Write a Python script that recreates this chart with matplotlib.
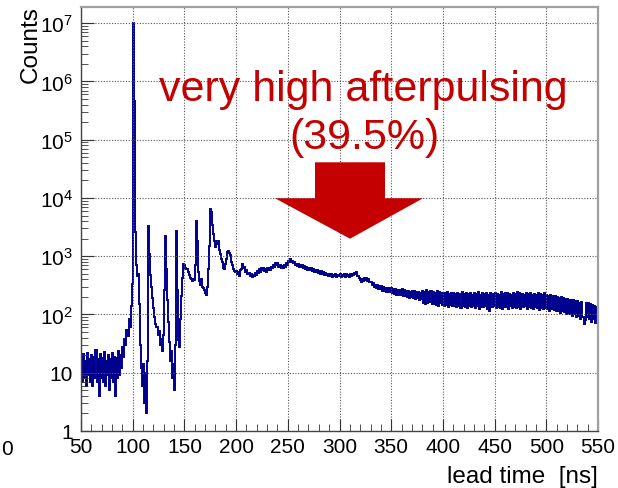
import matplotlib
matplotlib.use("Agg")
import matplotlib.pyplot as plt
from matplotlib.ticker import FixedLocator, FuncFormatter, NullFormatter
from matplotlib.patches import Polygon
import numpy as np

plt.rcParams['font.family'] = ['Liberation Sans', 'DejaVu Sans']
plt.rcParams['mathtext.fontset'] = 'custom'
plt.rcParams['mathtext.rm'] = 'Liberation Sans'
plt.rcParams['mathtext.default'] = 'regular'

# histogram: 1 ns bins from 50 to 550 ns, counts per bin
t_start = 50
t_stop = 550
counts = [
    18, 7, 21, 8, 16, 6, 22, 9, 17, 7,              # 50
    20, 6, 19, 8, 25, 7, 17, 4, 21, 8,              # 60
    18, 7, 23, 6, 16, 9, 20, 5, 17, 8,              # 70
    22, 7, 19, 4, 18, 8, 24, 9, 20, 12,             # 80
    28, 19, 38, 30, 55, 42, 85, 60, 140, 330,       # 90
    10000000, 470000, 2600, 700, 450, 500, 150, 30, 12, 6,   # 100
    14, 3, 10, 2, 16, 3300, 1100, 480, 300, 190,    # 110
    130, 90, 70, 60, 45, 52, 30, 38, 24, 45,        # 120
    260, 2200, 600, 180, 75, 34, 16, 24, 8, 14,     # 130
    5, 30, 2700, 260, 36, 28, 85, 210, 420, 750,    # 140
    720, 640, 600, 530, 480, 430, 400, 380, 410, 390,   # 150
    700, 4100, 1800, 540, 380, 320, 400, 300, 280, 260, # 160
    230, 220, 300, 600, 1500, 6500, 5800, 3400, 2400, 1800,  # 170
    1450, 1600, 1800, 1300, 1100, 900, 790, 640, 600, 750,   # 180
    900, 1170, 1250, 1150, 1030, 800, 700, 600, 560, 540,    # 190
    560, 490, 530, 460, 590, 600, 730, 640, 660, 540,   # 200
    590, 500, 520, 450, 500, 440, 480, 450, 520, 470,   # 210
    550, 510, 600, 530, 620, 570, 630, 550, 600, 540,   # 220
    620, 570, 640, 580, 660, 630, 720, 650, 760, 700,   # 230
    760, 650, 710, 630, 690, 620, 720, 660, 760, 720,   # 240
    840, 800, 900, 810, 840, 760, 800, 700, 750, 680,   # 250
    730, 660, 720, 650, 700, 620, 680, 600, 650, 590,   # 260
    640, 580, 620, 560, 600, 540, 590, 530, 570, 520,   # 270
    560, 500, 550, 490, 530, 480, 520, 470, 500, 460,   # 280
    490, 450, 490, 440, 480, 450, 490, 440, 480, 450,   # 290
    490, 440, 480, 450, 500, 440, 490, 450, 480, 440,   # 300
    490, 450, 500, 470, 520, 490, 540, 460, 450, 420,   # 310
    390, 360, 400, 370, 420, 390, 430, 380, 410, 360,   # 320
    355, 315, 345, 295, 325, 285, 315, 275, 305, 270,   # 330
    305, 255, 295, 250, 290, 245, 290, 240, 280, 240,   # 340
    280, 230, 270, 225, 270, 220, 265, 215, 260, 215,   # 350
    270, 210, 260, 205, 255, 200, 250, 195, 245, 200,   # 360
    255, 190, 250, 185, 245, 190, 240, 180, 235, 185,   # 370
    255, 160, 240, 150, 265, 155, 245, 165, 250, 150,   # 380
    245, 150, 235, 145, 250, 140, 240, 155, 230, 145,   # 390
    235, 140, 230, 145, 240, 135, 225, 145, 235, 140,   # 400
    230, 140, 225, 135, 235, 140, 225, 130, 240, 140,   # 410
    225, 135, 235, 130, 225, 140, 230, 135, 220, 140,   # 420
    230, 130, 225, 140, 240, 125, 220, 135, 230, 135,   # 430
    225, 140, 235, 125, 220, 115, 230, 135, 225, 140,   # 440
    235, 130, 225, 135, 220, 130, 240, 125, 225, 135,   # 450
    230, 135, 235, 125, 225, 140, 220, 130, 235, 135,   # 460
    225, 130, 240, 135, 230, 125, 225, 135, 220, 140,   # 470
    235, 125, 225, 135, 230, 130, 220, 125, 225, 135,   # 480
    220, 130, 235, 120, 225, 130, 215, 125, 230, 130,   # 490
    215, 125, 210, 115, 220, 125, 205, 120, 210, 115,   # 500
    200, 115, 195, 105, 200, 115, 190, 110, 185, 100,   # 510
    185, 105, 180, 100, 175, 95, 175, 100, 170, 90,     # 520
    170, 95, 160, 85, 165, 90, 70, 80, 160, 90,         # 530
    155, 85, 150, 75, 145, 85, 140, 72, 135, 90,        # 540
]
edges = np.arange(t_start, t_stop + 1, 1)

x_major = [50, 100, 150, 200, 250, 300, 350, 400, 450, 500, 550]
y_major = [1, 10, 100, 1e3, 1e4, 1e5, 1e6, 1e7]

annot_line1 = "very high afterpulsing"
annot_line2 = "(39.5%)"
red = "#c40000"
blue = "#00008f"

fig = plt.figure(figsize=(6.18, 4.89), dpi=100)
ax = fig.add_axes([81 / 618, 57 / 489, 517 / 618, 424 / 489])

ax.stairs(counts, edges, baseline=None, color=blue, linewidth=1.4)

ax.set_yscale('log')
ax.set_xlim(t_start, t_stop)
ax.set_ylim(1, 1.9e7)

ax.xaxis.set_major_locator(FixedLocator(x_major))
ax.xaxis.set_minor_locator(FixedLocator(np.arange(50, 551, 10)))
ax.yaxis.set_major_locator(FixedLocator(y_major))
ax.yaxis.set_minor_locator(FixedLocator(
    [m * 10.0 ** d for d in range(0, 8) for m in range(2, 10)]))
ax.yaxis.set_minor_formatter(NullFormatter())


def ylab(v, pos):
    e = int(round(np.log10(v)))
    if e == 0:
        return "1"
    if e == 1:
        return "10"
    return r"$10^{%d}$" % e


ax.yaxis.set_major_formatter(FuncFormatter(ylab))

ax.tick_params(axis='both', which='both', direction='in', colors='#333333',
               labelcolor='black', top=False, right=False)
ax.tick_params(axis='x', which='major', length=9, labelsize=15, pad=4)
ax.tick_params(axis='x', which='minor', length=5)
ax.tick_params(axis='y', which='major', length=9, labelsize=15, pad=6)
ax.tick_params(axis='y', which='minor', length=5)

ax.grid(True, which='major', color='#555555', linestyle=(0, (1, 1.5)), linewidth=0.8)

for s in ['top', 'right']:
    ax.spines[s].set_color('#a0a0a0')
    ax.spines[s].set_linewidth(1.6)
for s in ['left', 'bottom']:
    ax.spines[s].set_color('#444444')
    ax.spines[s].set_linewidth(1.0)

ax.set_xlabel("lead time  [ns]", fontsize=17.5, loc='right')
ax.xaxis.set_label_coords(1.0, -0.08)
ax.set_ylabel("Counts", fontsize=17.5, loc='top')
ax.yaxis.set_label_coords(-0.075, 1.005)

# red annotation and arrow
fig.text(363 / 618, 1 - 101.5 / 489, annot_line1, color=red, fontsize=31,
         ha='center', va='baseline')
fig.text(364 / 618, 1 - 149.5 / 489, annot_line2, color=red, fontsize=31,
         ha='center', va='baseline')
arrow = Polygon([(276.3, 4.1e4), (344.0, 4.1e4), (344.0, 9.9e3), (380.8, 9.9e3),
                 (310.2, 2.0e3), (237.6, 9.9e3), (276.3, 9.9e3)],
                closed=True, facecolor=red, edgecolor='none', zorder=5)
ax.add_patch(arrow)

fig.text(1 / 618, 1 - 455 / 489, "0", fontsize=15, ha='left', va='baseline')

fig.savefig("out.png", dpi=100)
